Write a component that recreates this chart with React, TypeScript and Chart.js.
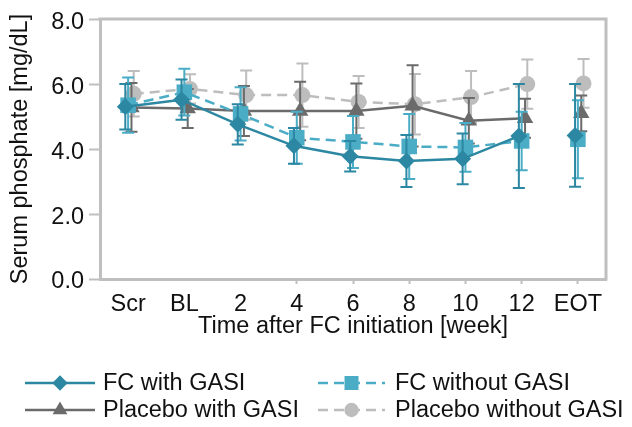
import React, { useEffect, useRef } from 'react';
import { Chart, registerables } from 'chart.js';
Chart.register(...registerables);

// ---- data ----
const categories = ['Scr', 'BL', '2', '4', '6', '8', '10', '12', 'EOT'];
const seriesNames = ['FC with GASI', 'FC without GASI', 'Placebo with GASI', 'Placebo without GASI'];

const fcWithMean = [5.3, 5.52, 4.76, 4.1, 3.78, 3.63, 3.7, 4.4, 4.42];
const fcWithErr = [0.7, 0.62, 0.62, 0.55, 0.47, 0.8, 0.78, 1.6, 1.58];

const fcWithoutMean = [5.35, 5.75, 5.08, 4.35, 4.22, 4.08, 4.05, 4.25, 4.3];
const fcWithoutErr = [0.85, 0.72, 0.82, 0.8, 0.8, 1.0, 0.75, 0.9, 1.2];

const placeboWithMean = [5.28, 5.25, 5.17, 5.17, 5.17, 5.33, 4.87, 4.95, 5.1];
const placeboWithErr = [0.75, 0.6, 0.77, 0.9, 0.85, 1.25, 0.7, 0.6, 0.55];

const placeboWithoutMean = [5.7, 5.85, 5.66, 5.66, 5.45, 5.38, 5.6, 6.0, 6.02];
const placeboWithoutErr = [0.7, 0.45, 0.76, 0.97, 0.8, 0.93, 0.8, 0.76, 0.75];

const yTickValues = [0, 2, 4, 6, 8];

// ---- styles ----
const FONT = '"Liberation Sans", Arial, Helvetica, sans-serif';
const FS = 23.5;
const colors = ['#2C87A2', '#4BACC6', '#6B6B6B', '#BDBDBD'];
const dashes = [[], [10, 6], [], [10, 6]];
const pointStyles = ['rectRot', 'rect', 'triangle', 'circle'];
const pointRadii = [8.5, 11, 9.5, 8];
const dodge = [-0.05, 0, 0.06, 0.1];
const FRAME = '#BFBFBF';

const means = [fcWithMean, fcWithoutMean, placeboWithMean, placeboWithoutMean];
const errs = [fcWithErr, fcWithoutErr, placeboWithErr, placeboWithoutErr];

function drawMarker(ctx: CanvasRenderingContext2D, style: string, x: number, y: number, r: number) {
  ctx.beginPath();
  if (style === 'rectRot') {
    ctx.moveTo(x, y - r);
    ctx.lineTo(x + r, y);
    ctx.lineTo(x, y + r);
    ctx.lineTo(x - r, y);
    ctx.closePath();
  } else if (style === 'rect') {
    const s = r * Math.SQRT1_2;
    ctx.rect(x - s, y - s, 2 * s, 2 * s);
  } else if (style === 'triangle') {
    let a = 0;
    ctx.moveTo(x + Math.sin(a) * r, y - Math.cos(a) * r);
    a += (2 * Math.PI) / 3;
    ctx.lineTo(x + Math.sin(a) * r, y - Math.cos(a) * r);
    a += (2 * Math.PI) / 3;
    ctx.lineTo(x + Math.sin(a) * r, y - Math.cos(a) * r);
    ctx.closePath();
  } else {
    ctx.arc(x, y, r, 0, Math.PI * 2);
  }
  ctx.fill();
}

const errorBars = {
  id: 'errorBars',
  beforeDatasetDraw(chart: any, args: any) {
    const k = args.index;
    const meta = args.meta;
    const ys = chart.scales.y;
    const ctx = chart.ctx as CanvasRenderingContext2D;
    ctx.save();
    ctx.strokeStyle = colors[k];
    ctx.lineWidth = 2;
    ctx.setLineDash([]);
    meta.data.forEach((pt: any, i: number) => {
      const m = means[k][i];
      const e = errs[k][i];
      const x = pt.x;
      const yt = ys.getPixelForValue(m + e);
      const yb = ys.getPixelForValue(m - e);
      ctx.beginPath();
      ctx.moveTo(x, yt);
      ctx.lineTo(x, yb);
      ctx.moveTo(x - 6, yt);
      ctx.lineTo(x + 6, yt);
      ctx.moveTo(x - 6, yb);
      ctx.lineTo(x + 6, yb);
      ctx.stroke();
    });
    ctx.restore();
  },
};

const frame = {
  id: 'frame',
  afterDraw(chart: any) {
    const { ctx, chartArea } = chart;
    ctx.save();
    ctx.strokeStyle = FRAME;
    ctx.lineWidth = 3;
    ctx.beginPath();
    ctx.moveTo(chartArea.left - 1.5, chartArea.top);
    ctx.lineTo(chartArea.right, chartArea.top);
    ctx.lineTo(chartArea.right, chartArea.bottom + 1.5);
    ctx.stroke();
    ctx.restore();
  },
};

const legendPlugin = {
  id: 'customLegend',
  afterDraw(chart: any) {
    const ctx = chart.ctx as CanvasRenderingContext2D;
    const cols = [
      { x0: 25, x1: 95, tx: 103 },
      { x0: 318, x1: 385, tx: 395 },
    ];
    const rows = [383, 410];
    ctx.save();
    ctx.font = `${FS}px ${FONT}`;
    ctx.textBaseline = 'middle';
    ctx.textAlign = 'left';
    seriesNames.forEach((name, k) => {
      const c = cols[k % 2];
      const y = rows[Math.floor(k / 2)];
      ctx.strokeStyle = colors[k];
      ctx.lineWidth = 2.5;
      ctx.setLineDash(dashes[k]);
      ctx.beginPath();
      ctx.moveTo(c.x0, y);
      ctx.lineTo(c.x1, y);
      ctx.stroke();
      ctx.setLineDash([]);
      ctx.fillStyle = colors[k];
      drawMarker(ctx, pointStyles[k], (c.x0 + c.x1) / 2, y, pointRadii[k] * 0.9);
      ctx.fillStyle = '#111';
      ctx.fillText(name, c.tx, y + 1);
    });
    ctx.restore();
  },
};

export default function App() {
  const ref = useRef<HTMLCanvasElement | null>(null);
  useEffect(() => {
    document.body.style.margin = '0';
    if (!ref.current) return;
    const datasets = seriesNames.map((name, k) => ({
      label: name,
      data: categories.map((_, i) => ({ x: i + dodge[k], y: means[k][i] })),
      borderColor: colors[k],
      backgroundColor: colors[k],
      pointBackgroundColor: colors[k],
      pointBorderColor: colors[k],
      pointBorderWidth: 0,
      pointStyle: pointStyles[k],
      pointRadius: pointRadii[k],
      borderWidth: 2.5,
      borderDash: dashes[k],
      tension: 0,
      segment: {
        borderColor: (c: any) => (c.p1DataIndex === categories.length - 1 ? 'rgba(0,0,0,0)' : undefined),
      },
    }));
    const chart = new Chart(ref.current, {
      type: 'line',
      data: { datasets },
      plugins: [errorBars, frame, legendPlugin],
      options: {
        animation: false,
        responsive: false,
        layout: { padding: { left: 0, right: 26, top: 16, bottom: 86 } },
        plugins: { legend: { display: false }, tooltip: { enabled: false } },
        scales: {
          x: {
            type: 'linear',
            min: -0.5,
            max: 8.5,
            afterBuildTicks: (axis: any) => {
              axis.ticks = categories.map((_, i) => ({ value: i }));
            },
            afterFit: (axis: any) => {
              axis.height = 62;
            },
            ticks: {
              autoSkip: false,
              maxRotation: 0,
              padding: 6,
              color: '#111',
              font: { family: FONT, size: FS },
              callback: (v: any) => categories[Math.round(Number(v))] ?? '',
            },
            grid: {
              drawOnChartArea: false,
              drawTicks: true,
              tickLength: 5,
              tickWidth: 2,
              tickColor: (c: any) => (c.index < 3 ? 'rgba(0,0,0,0)' : FRAME),
            },
            border: { display: true, color: FRAME, width: 3 },
            title: {
              display: true,
              text: 'Time after FC initiation [week]',
              color: '#111',
              font: { family: FONT, size: FS },
              padding: { top: 0, bottom: 0 },
            },
          },
          y: {
            min: 0,
            max: 8,
            afterBuildTicks: (axis: any) => {
              axis.ticks = yTickValues.map((v) => ({ value: v }));
            },
            afterFit: (axis: any) => {
              axis.width = 100;
            },
            ticks: {
              padding: 5,
              labelOffset: 3,
              color: '#111',
              font: { family: FONT, size: FS },
              callback: (v: any) => Number(v).toFixed(1),
            },
            grid: {
              drawOnChartArea: false,
              drawTicks: true,
              tickLength: 11,
              tickWidth: 2,
              tickColor: FRAME,
            },
            border: { display: true, color: FRAME, width: 3 },
            title: {
              display: true,
              text: 'Serum phosphate [mg/dL]',
              color: '#111',
              font: { family: FONT, size: FS },
              padding: { top: 6, bottom: 0 },
            },
          },
        },
      },
    } as any);
    return () => chart.destroy();
  }, []);
  return (
    <div style={{ width: 632, height: 427 }}>
      <canvas ref={ref} width={632} height={427} />
    </div>
  );
}
